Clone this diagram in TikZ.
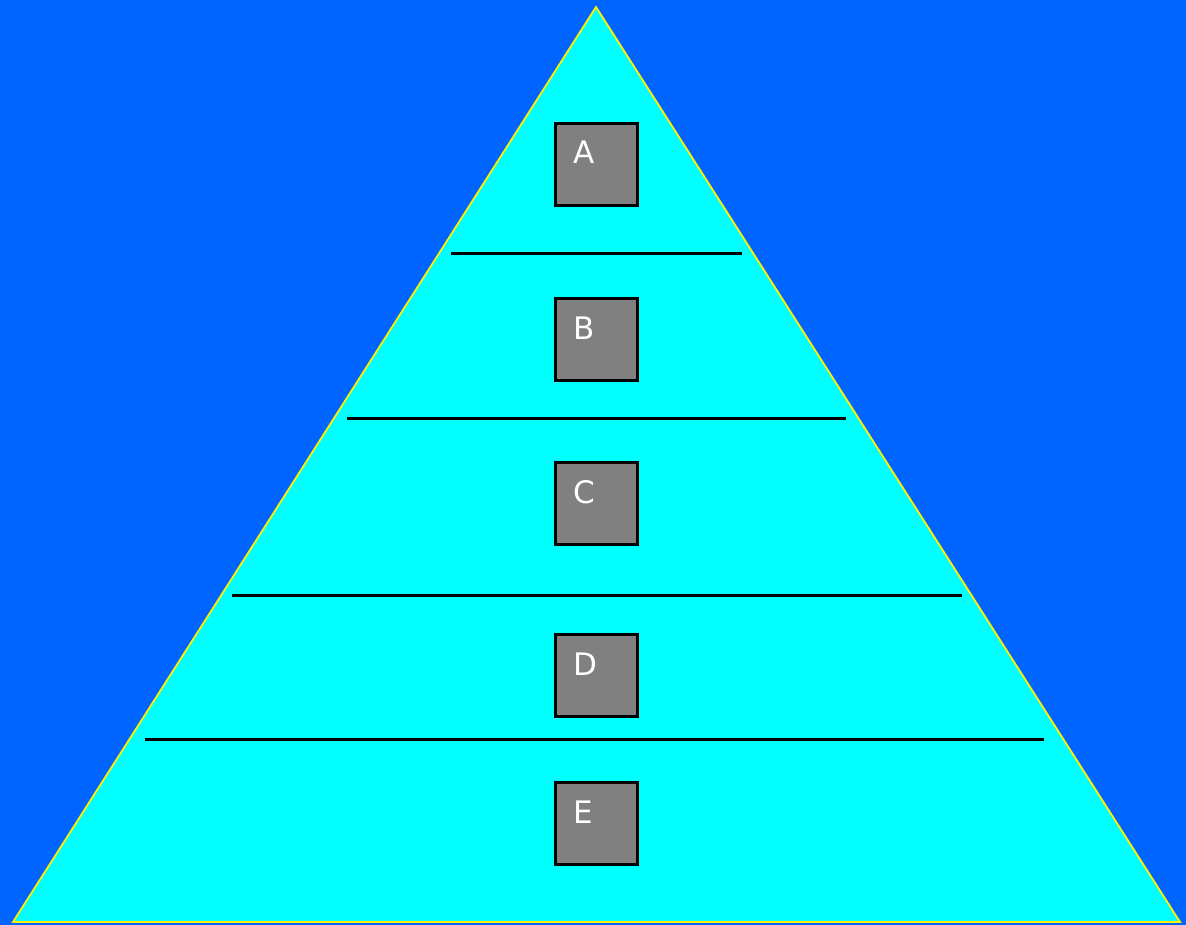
\documentclass[tikz,border=0pt]{standalone}
\usepackage{fontspec}
\setmainfont{DejaVu Sans}
\usepackage{xcolor}
\usetikzlibrary{positioning}
\definecolor{skyblue}{HTML}{0064FF}
\definecolor{aqua}{HTML}{00FFFF}
\definecolor{boxgray}{HTML}{808080}

\begin{document}
\begin{tikzpicture}[
  x=1pt, y=-1pt,
  level/.style={draw=black, line width=3pt, fill=boxgray, minimum size=82pt, inner sep=0pt},
  tag/.style={text=white, font=\fontsize{31}{37}\selectfont, inner sep=0pt, anchor=base west},
  divider/.style={draw=black, line width=3pt}
]
% background and pyramid
\fill[skyblue] (0,0) rectangle (1186,925);
\useasboundingbox (0,0) rectangle (1186,925);
\filldraw[fill=aqua, draw=yellow, line width=1.8pt] (596,7) -- (1180,922) -- (13,922) -- cycle;

% layer dividers
\foreach \y/\l/\r in {254/451/742, 418/347/846, 595/232/962, 739/145/1044}
  \draw[divider] (\l,\y) -- (\r,\y);

% level boxes
\foreach \n/\y in {A/164.5, B/339.5, C/503.5, D/675.5, E/823.5} {
  \node[level] (box\n) at (596.5,\y) {};
  \node[tag] (tag\n) at ([xshift=19pt, yshift=-42pt]box\n.north west) {\n};
}
\end{tikzpicture}
\end{document}
